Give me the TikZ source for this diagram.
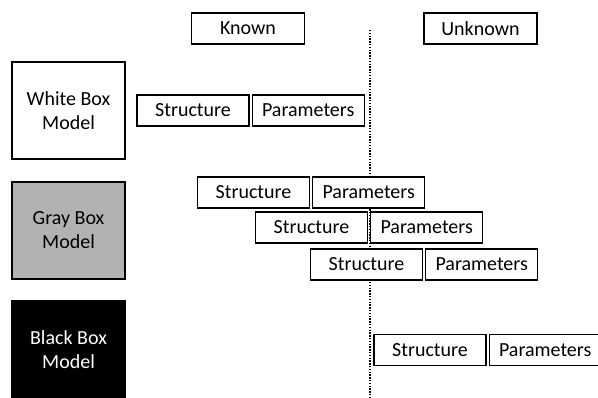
\documentclass[tikz,border=0pt]{standalone}
\usepackage{fontspec}
\setmainfont{Carlito}
\usetikzlibrary{positioning}
\definecolor{cGray}{RGB}{178,178,178}
\tikzset{
  basebox/.style={rectangle,draw=black,line width=1.2pt,fill=white,
                  align=center,inner sep=0pt,font=\fontsize{20}{24}\selectfont},
  headbox/.style={basebox,minimum width=113pt,minimum height=31pt},
  partbox/.style={basebox,minimum width=112pt,minimum height=31pt},
  modelbox/.style={basebox,minimum width=113pt,minimum height=97pt},
  divline/.style={dash pattern=on 1.4pt off 1.4pt,line width=1.3pt}
}
\begin{document}
\begin{tikzpicture}[x=1pt,y=1pt]

  \useasboundingbox (0,0) rectangle (598,-398);

  % Known / unknown divider
  \coordinate (divtop) at (370,-30);
  \coordinate (divbot) at (370,-398);
  \draw[divline] (divtop) -- (divbot);

  % Column headers
  \node[headbox] (known) at (248,-28.5) {Known};
  \node[headbox] (unknown) at (480.5,-28.5) {Unknown};

  % Model boxes
  \node[modelbox] (white) at (68.5,-110.5) {White Box\\Model};
  \node[modelbox,fill=cGray] (gray) at (68.5,-230.5) {Gray Box\\Model};
  \node[modelbox,fill=black,text=white] (black) at (68.5,-349.5) {Black Box\\Model};

  % White box: all known
  \node[partbox] (w_str) at (193,-110.5) {Structure};
  \node[partbox, right=2pt of w_str] (w_par) {Parameters};

  % Gray box: three mixes
  \node[partbox] (g1_str) at (253.5,-192.5) {Structure};
  \node[partbox, right=2pt of g1_str] (g1_par) {Parameters};
  \node[partbox] (g2_str) at (311.5,-227.5) {Structure};
  \node[partbox, right=2pt of g2_str] (g2_par) {Parameters};
  \node[partbox] (g3_str) at (366.5,-264.5) {Structure};
  \node[partbox, right=2pt of g3_str] (g3_par) {Parameters};

  % Black box: all unknown
  \node[partbox] (b_str) at (430,-350) {Structure};
  \node[partbox, right=2pt of b_str] (b_par) {Parameters};

\end{tikzpicture}
\end{document}
